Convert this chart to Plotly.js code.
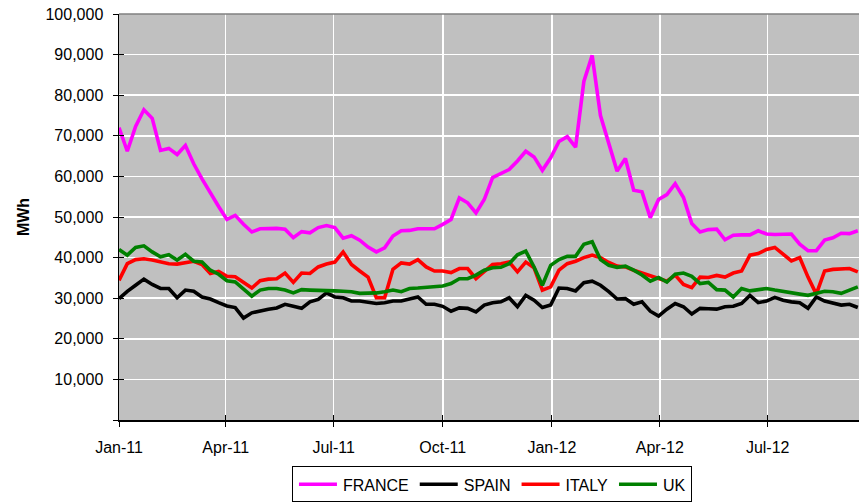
<!DOCTYPE html>
<html>
<head>
<meta charset="utf-8">
<script src="https://cdn.plot.ly/plotly-3.0.1.min.js"></script>
<style>html,body{margin:0;padding:0;background:#fff}#chart{width:859px;height:504px}</style>
</head>
<body>
<div id="chart"></div>
<script>
// Weekly series (MWh), first week starting 2011-01-01
const startDate = '2011-01-01';
const seriesNames = ['FRANCE', 'SPAIN', 'ITALY', 'UK'];
const france = [72000,66200,72300,76400,74300,66400,66900,65400,67600,63100,59400,55800,52600,49400,50400,48200,46300,47100,47200,47200,47000,44900,46400,46100,47400,47900,47400,44800,45400,44300,42600,41400,42400,45300,46600,46700,47100,47100,47100,48200,49400,54700,53500,51000,54300,59700,60800,61700,63800,66200,64800,61500,64600,68600,69800,67200,83400,89800,75000,68000,61300,64400,56600,56200,49800,54300,55500,58200,54800,48400,46300,46900,47000,44400,45500,45600,45600,46600,45800,45700,45800,45800,43300,41700,41700,44300,44900,46000,45900,46600];
const spain = [29900,31700,33200,34700,33400,32400,32400,30100,32000,31700,30300,29800,28900,28100,27700,25100,26400,26900,27300,27600,28500,28000,27500,29100,29700,31300,30300,30100,29300,29300,29000,28700,28900,29300,29300,29700,30300,28500,28500,28000,26800,27600,27500,26600,28300,28900,29100,30100,27900,30700,29500,27700,28300,32500,32400,31800,33800,34200,33200,31600,29800,29900,28500,29100,26800,25600,27300,28700,27900,26100,27500,27400,27300,27900,28000,28700,30700,28900,29300,30200,29500,29100,28900,27500,30300,29300,28900,28300,28500,27700];
const italy = [34400,38500,39500,39700,39400,38900,38500,38400,38800,39100,38300,36100,36600,35400,35300,33800,32500,34300,34700,34800,36200,33900,36200,36100,37700,38400,38900,41400,38300,36700,35200,30100,30100,37100,38700,38400,39500,37700,36700,36700,36300,37300,37300,34800,36600,38300,38500,38900,36500,38900,37500,32000,32800,36900,38500,39100,40000,40600,40000,38800,37900,37700,36900,36200,35700,35000,34200,35700,33400,32600,35200,35100,35600,35200,36200,36700,40600,41000,42000,42500,40800,39200,40000,35200,31000,36700,37100,37100,37300,36500];
const uk = [42000,40600,42500,42900,41400,40200,40700,39400,40800,39100,38900,36900,35900,34300,34000,32100,30500,32000,32400,32400,32000,31300,32100,32000,32000,31800,31800,31700,31600,31200,31200,31300,31600,32000,31600,32400,32500,32700,32900,33000,33600,34800,34800,35700,36900,37500,37600,38500,40700,41600,37700,33200,38100,39500,40300,40300,43300,43900,39500,38100,37600,37900,36900,35700,34200,35100,34000,35900,36200,35400,33600,33900,32100,32000,30300,32400,31800,32000,32400,32000,31600,31200,31000,30700,31200,31700,31600,31200,32000,32800];
const seriesColors = ['#FF00FF', '#000000', '#FF0000', '#008000'];

const xTickVals = ['2011-01-01','2011-04-01','2011-07-01','2011-10-01','2012-01-01','2012-04-01','2012-07-01'];
const xTickText = ['Jan-11','Apr-11','Jul-11','Oct-11','Jan-12','Apr-12','Jul-12'];
const yTickVals = [0,10000,20000,30000,40000,50000,60000,70000,80000,90000,100000];
const yTickText = ['','10,000','20,000','30,000','40,000','50,000','60,000','70,000','80,000','90,000','100,000'];

const dates = [];
(function(){
  const d0 = new Date(startDate + 'T00:00:00Z');
  for (let i = 0; i < france.length; i++) {
    const d = new Date(d0.getTime() + i * 7 * 86400000);
    dates.push(d.toISOString().slice(0, 10));
  }
})();

const allSeries = [france, spain, italy, uk];
const traces = allSeries.map((ys, k) => ({
  type: 'scatter', mode: 'lines', name: seriesNames[k],
  x: dates, y: ys,
  line: {color: seriesColors[k], width: 3.6},
  hoverinfo: 'skip'
}));
// empty helper trace so the inner tick-mark axes get drawn
traces.push({type: 'scatter', mode: 'lines', x: [], y: [], xaxis: 'x2', yaxis: 'y2', showlegend: false, hoverinfo: 'skip'});

const font = {family: '"Liberation Sans", Arial, sans-serif', size: 16, color: '#000'};
const xRange = ['2011-01-01', '2012-09-16'];
const yRange = [0, 100000];

const layout = {
  width: 859, height: 504,
  margin: {l: 119, r: 0, t: 14, b: 84},
  paper_bgcolor: '#ffffff',
  plot_bgcolor: '#C0C0C0',
  font: font,
  showlegend: true,
  legend: {
    orientation: 'h', x: 0.504, xanchor: 'center', y: -0.203, yanchor: 'bottom',
    bordercolor: '#000', borderwidth: 1, bgcolor: '#fff',
    font: font, tracegroupgap: 0, itemwidth: 40
  },
  xaxis: {
    type: 'date', range: xRange,
    tickmode: 'array', tickvals: xTickVals, ticktext: xTickText,
    ticks: 'outside', ticklen: 5, tickcolor: '#000', tickwidth: 1,
    showline: true, linecolor: '#000', linewidth: 1.5,
    showgrid: true, gridcolor: '#ffffff', gridwidth: 1.5,
    zeroline: false, ticklabelstandoff: 7, tickfont: font
  },
  yaxis: {
    range: yRange,
    tickmode: 'array', tickvals: yTickVals, ticktext: yTickText,
    ticks: 'outside', ticklen: 5, tickcolor: '#000', tickwidth: 1,
    showline: true, linecolor: '#000', linewidth: 1.5,
    showgrid: true, gridcolor: '#ffffff', gridwidth: 1.5,
    zeroline: false, ticklabelstandoff: 6, tickfont: font,
    title: {text: '<b>MWh</b>', font: {family: font.family, size: 16, color: '#000'}, standoff: 12}
  },
  xaxis2: {
    type: 'date', overlaying: 'x', range: xRange,
    tickmode: 'array', tickvals: xTickVals,
    ticks: 'inside', ticklen: 5, tickcolor: '#000', tickwidth: 1,
    showticklabels: false, showgrid: false, showline: false, zeroline: false
  },
  yaxis2: {
    overlaying: 'y', range: yRange,
    tickmode: 'array', tickvals: yTickVals,
    ticks: 'inside', ticklen: 5, tickcolor: '#000', tickwidth: 1,
    showticklabels: false, showgrid: false, showline: false, zeroline: false
  },
  shapes: [
    {type: 'line', xref: 'paper', yref: 'paper', x0: 0, x1: 1, y0: 1, y1: 1,
     line: {color: '#808080', width: 1.5}}
  ]
};

Plotly.newPlot('chart', traces, layout, {displayModeBar: false, staticPlot: true}).then(function(gd){
  // lengthen legend line samples to fill the wider symbol slot
  gd.querySelectorAll('.legend .legendlines path').forEach(function(p){
    p.setAttribute('d', 'M6,0h38');
  });
});
</script>
</body>
</html>
